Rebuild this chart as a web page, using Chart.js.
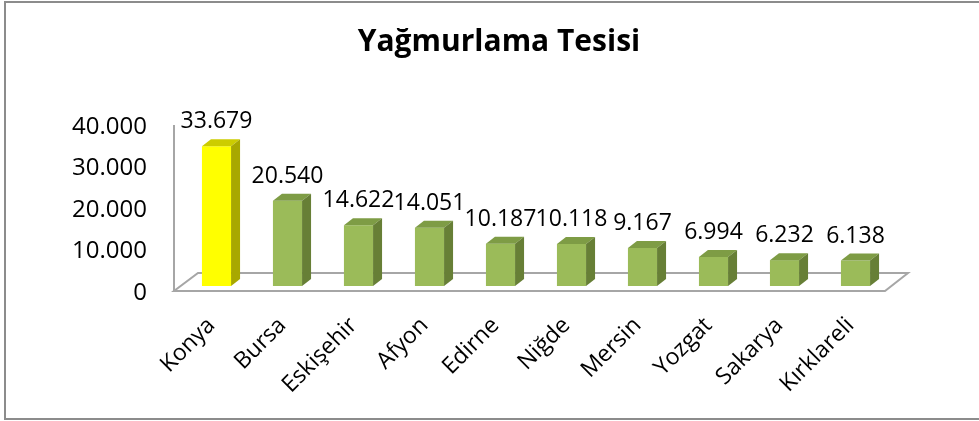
<!DOCTYPE html>
<html>
<head>
<meta charset="utf-8">
<script src="https://cdn.jsdelivr.net/npm/chart.js@4/dist/chart.umd.min.js"></script>
<style>
  html, body { margin: 0; padding: 0; background: #fff; }
  #wrap { width: 979px; height: 421px; }
</style>
</head>
<body>
<div id="wrap"><canvas id="c" width="979" height="421"></canvas></div>
<script>
// ── DATA ─────────────────────────────────────────────────────
var TITLE = 'Yağmurlama Tesisi';
var CITIES = ['Konya', 'Bursa', 'Eskişehir', 'Afyon', 'Edirne', 'Niğde', 'Mersin', 'Yozgat', 'Sakarya', 'Kırklareli'];
var VALUES = [33679, 20540, 14622, 14051, 10187, 10118, 9167, 6994, 6232, 6138];
var Y_TICKS = [0, 10000, 20000, 30000, 40000];

// ── COLORS ───────────────────────────────────────────────────
var FRONT = { yellow: '#FFFF00', green: '#9BBB59' };
var TOP = { yellow: '#CCCC00', green: '#7E9C45' };
var SIDE = { yellow: '#A8A800', green: '#677F36' };
var FONT = '"Open Sans", "Liberation Sans", sans-serif';

function tone(i) { return i === 0 ? 'yellow' : 'green'; }

// ── NUMBER FORMAT (tr: 40.000) ───────────────────────────────
function fmt(n) {
  return String(n).replace(/\B(?=(\d{3})+(?!\d))/g, '.');
}

// ── 3D PIECES ────────────────────────────────────────────────
var DX = 9, DY = 7;

var frame = {
  id: 'frame',
  beforeDraw: function (chart) {
    var ctx = chart.ctx, a = chart.chartArea;
    ctx.save();
    ctx.strokeStyle = '#8C8C8C';
    ctx.lineWidth = 2;
    ctx.strokeRect(5, 2, 990, 417);
    // left wall edge + floor
    var fl = [a.left - 7, a.bottom + 5], fr = [a.right - 6, a.bottom + 5];
    var bl = [a.left + 17, a.bottom - 13], br = [a.right + 17, a.bottom - 13];
    ctx.strokeStyle = '#A6A6A6';
    ctx.lineWidth = 2;
    ctx.beginPath();
    ctx.moveTo(fl[0], a.top + 5);
    ctx.lineTo(fl[0], fl[1]);
    ctx.stroke();
    ctx.beginPath();
    ctx.moveTo(fl[0], fl[1]);
    ctx.lineTo(fr[0], fr[1]);
    ctx.lineTo(br[0], br[1]);
    ctx.lineTo(bl[0], bl[1]);
    ctx.closePath();
    ctx.fillStyle = '#FFFFFF';
    ctx.fill();
    ctx.stroke();
    ctx.restore();
  },
  afterDatasetsDraw: function (chart) {
    var ctx = chart.ctx;
    var meta = chart.getDatasetMeta(0);
    ctx.save();
    meta.data.forEach(function (el, i) {
      var p = el.getProps(['x', 'y', 'base', 'width'], true);
      var l = p.x - p.width / 2, r = p.x + p.width / 2, t = p.y, b = p.base;
      var k = tone(i);
      ctx.fillStyle = TOP[k];
      ctx.beginPath();
      ctx.moveTo(l, t); ctx.lineTo(l + DX, t - DY); ctx.lineTo(r + DX, t - DY); ctx.lineTo(r, t);
      ctx.closePath(); ctx.fill();
      ctx.fillStyle = SIDE[k];
      ctx.beginPath();
      ctx.moveTo(r, t); ctx.lineTo(r + DX, t - DY); ctx.lineTo(r + DX, b - DY); ctx.lineTo(r, b);
      ctx.closePath(); ctx.fill();
      // value label
      ctx.fillStyle = '#000';
      ctx.font = '23px ' + FONT;
      ctx.textAlign = 'center';
      ctx.textBaseline = 'alphabetic';
      ctx.fillText(fmt(VALUES[i]), p.x, t - 18);
    });
    ctx.restore();
  }
};

// ── CHART ────────────────────────────────────────────────────
new Chart(document.getElementById('c'), {
  type: 'bar',
  data: {
    labels: CITIES,
    datasets: [{
      data: VALUES,
      backgroundColor: VALUES.map(function (v, i) { return FRONT[tone(i)]; }),
      borderWidth: 0,
      categoryPercentage: 1,
      barPercentage: 0.41
    }]
  },
  options: {
    responsive: false,
    animation: false,
    layout: { padding: { left: 19, right: 0, top: 0, bottom: 0 } },
    plugins: {
      legend: { display: false },
      tooltip: { enabled: false },
      title: {
        display: true,
        text: TITLE,
        color: '#000',
        font: { family: FONT, size: 30, weight: 'bold' },
        padding: { top: 24, bottom: 60 }
      }
    },
    scales: {
      x: {
        grid: { display: false, drawTicks: false },
        border: { display: false },
        afterFit: function (s) { s.height = 135; },
        ticks: {
          color: '#000',
          font: { family: FONT, size: 23 },
          minRotation: 45, maxRotation: 45,
          padding: 26,
          labelOffset: -5
        }
      },
      y: {
        min: 0, max: 40000,
        grid: { display: false, drawTicks: false },
        border: { display: false },
        afterFit: function (s) { s.width = 162; },
        afterBuildTicks: function (s) { s.ticks = Y_TICKS.map(function (v) { return { value: v }; }); },
        ticks: {
          color: '#000',
          font: { family: FONT, size: 24 },
          padding: 34,
          labelOffset: 7,
          callback: function (v) { return fmt(v); }
        }
      },
      // empty right-hand space, keeps the plot narrower than the title box
      pad: {
        position: 'right',
        grid: { display: false, drawTicks: false },
        border: { display: false },
        ticks: { display: false },
        afterFit: function (s) { s.width = 88; }
      }
    }
  },
  plugins: [frame]
});
</script>
</body>
</html>
